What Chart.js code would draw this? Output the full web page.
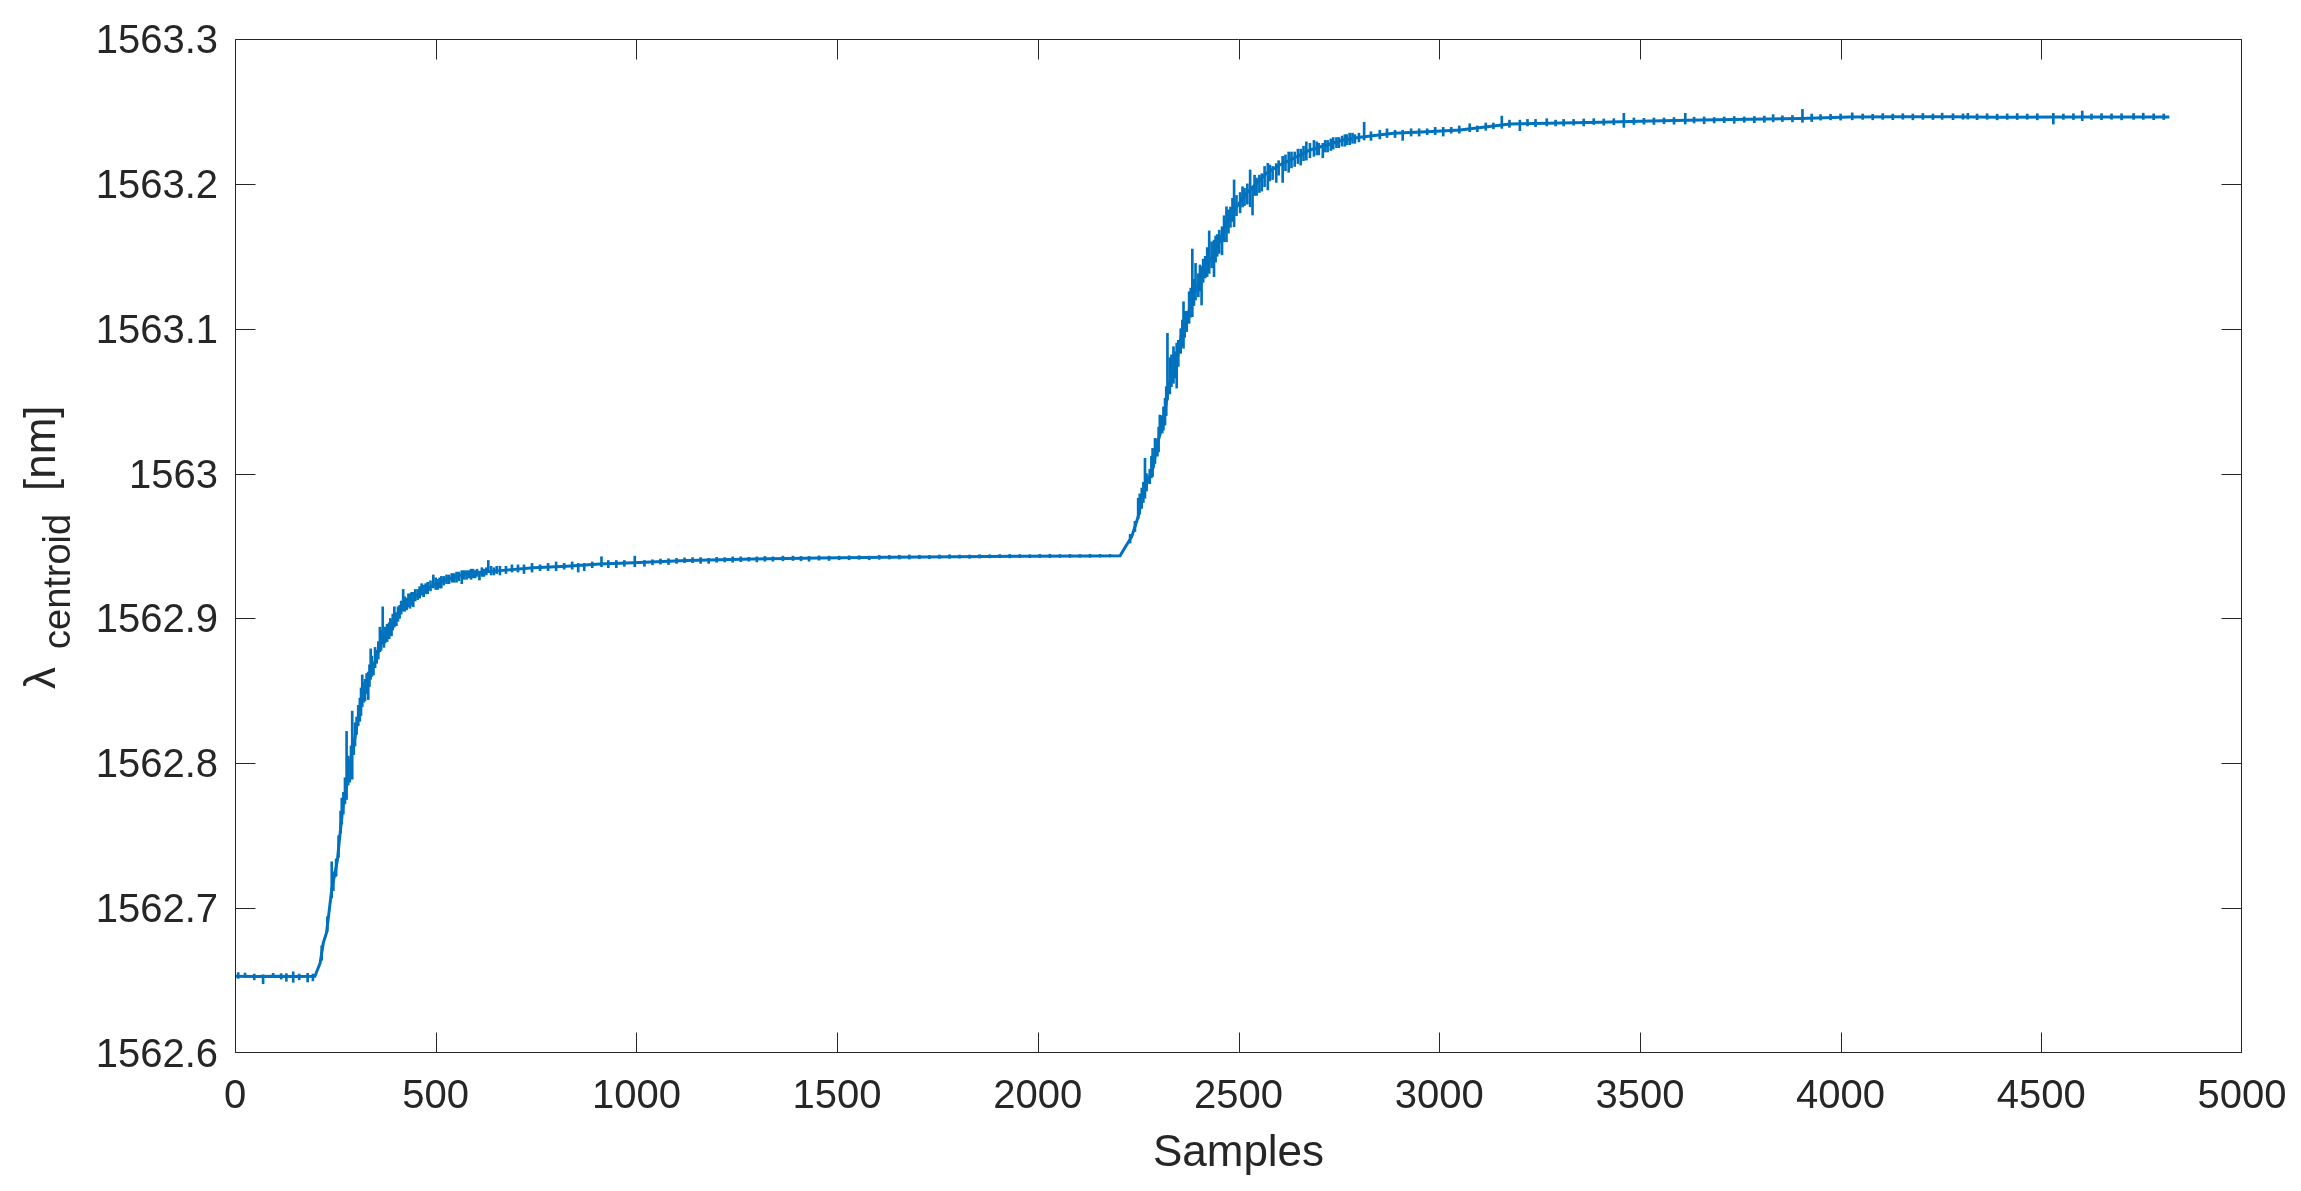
<!DOCTYPE html>
<html>
<head>
<meta charset="utf-8">
<script src="https://cdn.jsdelivr.net/npm/chart.js@4.4.1/dist/chart.umd.min.js"></script>
<style>
  html, body { margin: 0; padding: 0; background: #ffffff; }
  #wrap { width: 2301px; height: 1191px; position: relative; }
</style>
</head>
<body>
<div id="wrap"><canvas id="c" width="2301" height="1191"></canvas></div>
<script>
// ---- data ----
const xTickValues = [0, 500, 1000, 1500, 2000, 2500, 3000, 3500, 4000, 4500, 5000];
const yTickValues = [1562.6, 1562.7, 1562.8, 1562.9, 1563.0, 1563.1, 1563.2, 1563.3];
const xAxisTitle = 'Samples';
const yTitleMain = '\u03BB';
const yTitleSub = 'centroid';
const yTitleUnit = '[nm]';

// trend of the measured centroid (sample index, nm)
const sampleIdx = [0, 50, 100, 150, 199, 212, 220, 228, 235, 241, 249, 255, 262, 270, 278, 282, 295, 303, 311, 324,
  336, 353, 365, 378, 390, 403, 419, 436, 453, 477, 494, 519, 552, 577, 619, 660, 743, 826, 909, 992,
  1125, 1291, 1457, 1624, 1790, 1956, 2122, 2205, 2221, 2234, 2242, 2250, 2263, 2275, 2288, 2296, 2309, 2317, 2325, 2338,
  2350, 2358, 2371, 2383, 2396, 2408, 2421, 2437, 2454, 2471, 2495, 2520, 2545, 2570, 2603, 2637, 2678, 2720, 2761, 2803,
  2886, 2969, 3052, 3135, 3176, 3301, 3401, 3525, 3650, 3774, 3899, 4023, 4148, 4273, 4397, 4550, 4700, 4819];
const centroidNm = [1562.6530, 1562.6528, 1562.6530, 1562.6528, 1562.6530, 1562.662, 1562.676, 1562.683, 1562.699, 1562.713,
  1562.724, 1562.733, 1562.752, 1562.773, 1562.784, 1562.795, 1562.811, 1562.825, 1562.837, 1562.851,
  1562.862, 1562.873, 1562.885, 1562.890, 1562.895, 1562.902, 1562.908, 1562.913, 1562.916, 1562.920,
  1562.923, 1562.926, 1562.929, 1562.931, 1562.932, 1562.933, 1562.935, 1562.936, 1562.9375, 1562.9385,
  1562.9400, 1562.9410, 1562.9417, 1562.9422, 1562.9426, 1562.9429, 1562.9431, 1562.9432, 1562.9507, 1562.9564,
  1562.9633, 1562.9702, 1562.9864, 1562.9956, 1563.0047, 1563.0185, 1563.032, 1563.043, 1563.058, 1563.074,
  1563.083, 1563.096, 1563.105, 1563.120, 1563.128, 1563.136, 1563.145, 1563.150, 1563.161, 1563.174,
  1563.184, 1563.1935, 1563.2004, 1563.2073, 1563.213, 1563.2176, 1563.2234, 1563.2268, 1563.2303, 1563.2321,
  1563.2349, 1563.236, 1563.2372, 1563.2399, 1563.2413, 1563.2420, 1563.2425, 1563.2434, 1563.2441, 1563.2446,
  1563.2452, 1563.2462, 1563.2463, 1563.2463, 1563.2460, 1563.2462, 1563.2462, 1563.2462];

// noise excursions (sample index, lowest and highest value of the spike)
const spikeSample = [8, 25, 48, 70, 95, 115, 128, 145, 160, 181, 194,
  216, 230, 241, 252, 263, 270, 278, 286, 292, 296, 303, 311, 317, 324, 332, 338, 345, 353, 361, 368, 374, 384, 390, 397,
  402, 410, 419, 428, 436, 444, 455, 465, 480, 494, 505, 514, 527, 540, 552, 565, 577, 588, 598, 609, 620, 631, 645, 660,
  675, 690, 705, 720, 740, 760, 780, 800, 820, 840, 855, 870, 890, 913, 930, 950, 970, 996, 1020, 1040,
  1060, 1080, 1100, 1120, 1140, 1160, 1180, 1200, 1220, 1240, 1260, 1280, 1300, 1320, 1340, 1365, 1390, 1410, 1430, 1455,
  1480, 1505, 1530, 1555, 1580, 1605, 1630, 1655, 1680, 1705, 1730, 1755, 1780, 1805, 1830, 1855, 1880, 1905, 1930, 1955,
  1980, 2005, 2030, 2055, 2080, 2105, 2130, 2155, 2180,
  2230, 2242, 2250, 2259, 2267, 2271, 2279, 2286, 2292, 2298, 2304, 2310, 2317, 2323, 2329, 2338, 2346, 2356, 2363, 2371,
  2377, 2385, 2393, 2400, 2408, 2417, 2427, 2439, 2447, 2459, 2470, 2480, 2489, 2504, 2515, 2529, 2535, 2545, 2558, 2573,
  2585, 2594, 2610, 2625, 2640, 2655, 2669, 2688, 2700, 2710, 2722, 2736, 2750, 2765, 2777, 2790, 2813, 2830, 2852, 2870,
  2890, 2909, 2930, 2950, 2970, 2990, 3010, 3030, 3050, 3076, 3095, 3116, 3135, 3156, 3175, 3201, 3220, 3240, 3268, 3290,
  3310, 3335, 3360, 3385, 3410, 3435, 3460, 3485, 3510, 3535, 3560, 3585, 3613, 3635, 3660, 3685, 3710, 3735, 3760, 3785,
  3810, 3832, 3855, 3880, 3905, 3928, 3950, 3975, 4000, 4029, 4055, 4080, 4105, 4130, 4155, 4180, 4205, 4230, 4253, 4280,
  4305, 4317, 4340, 4365, 4390, 4415, 4440, 4465, 4490, 4530, 4555, 4580, 4602, 4625, 4650, 4675, 4700, 4730, 4754, 4780, 4805];
const spikeLow = [1562.6515, 1562.6520, 1562.6505, 1562.6478, 1562.6520, 1562.6510, 1562.6495, 1562.6488, 1562.6505, 1562.6490, 1562.6498,
  1562.664, 1562.684, 1562.707, 1562.722, 1562.752, 1562.765, 1562.775, 1562.787, 1562.789, 1562.806, 1562.820, 1562.829, 1562.839, 1562.843, 1562.844, 1562.858, 1562.861, 1562.869, 1562.877, 1562.882, 1562.883, 1562.886, 1562.888, 1562.894,
  1562.895, 1562.900, 1562.905, 1562.906, 1562.907, 1562.908, 1562.913, 1562.916, 1562.917, 1562.921, 1562.920, 1562.921, 1562.924, 1562.925, 1562.925, 1562.924, 1562.927, 1562.927, 1562.928, 1562.9265, 1562.929, 1562.932, 1562.930, 1562.930,
  1562.931, 1562.932, 1562.932, 1562.931, 1562.932, 1562.933, 1562.933, 1562.933, 1562.934, 1562.934, 1562.932, 1562.933, 1562.935, 1562.9357, 1562.935, 1562.935, 1562.936, 1562.9357, 1562.936, 1562.937,
  1562.9375, 1562.9372, 1562.9380, 1562.9385, 1562.9385, 1562.9380, 1562.9380, 1562.9388, 1562.9390, 1562.9388, 1562.9392, 1562.9395, 1562.9390, 1562.9395, 1562.9395, 1562.9398, 1562.9400, 1562.9398, 1562.9395, 1562.9402,
  1562.9400, 1562.9405, 1562.9405, 1562.9408, 1562.9405, 1562.9408, 1562.9410, 1562.9410, 1562.9410, 1562.9412, 1562.9412, 1562.9414, 1562.9415, 1562.9416, 1562.9415, 1562.9417, 1562.9418, 1562.9419, 1562.9418, 1562.9420,
  1562.9420, 1562.9421, 1562.9420, 1562.9422, 1562.9422, 1562.9423, 1562.9422, 1562.9424, 1562.9425,
  1562.952, 1562.960, 1562.969, 1562.976, 1562.983, 1562.988, 1562.993, 1562.998, 1563.007, 1563.012, 1563.0266, 1563.028, 1563.0335, 1563.0508, 1563.055, 1563.0623, 1563.059, 1563.083, 1563.0865, 1563.098,
  1563.1037, 1563.1083, 1563.1198, 1563.122, 1563.1164, 1563.135, 1563.1382, 1563.1359, 1563.150, 1563.151, 1563.160, 1563.170, 1563.1704, 1563.180, 1563.185, 1563.1842, 1563.1785, 1563.192, 1563.195, 1563.1958,
  1563.203, 1563.201, 1563.201, 1563.208, 1563.212, 1563.213, 1563.2164, 1563.219, 1563.220, 1563.218, 1563.222, 1563.224, 1563.225, 1563.226, 1563.227, 1563.228, 1563.2303, 1563.230, 1563.231, 1563.232,
  1563.232, 1563.230, 1563.233, 1563.233, 1563.234, 1563.234, 1563.233, 1563.235, 1563.235, 1563.236, 1563.236, 1563.237, 1563.238, 1563.2383, 1563.239, 1563.2367, 1563.2400, 1563.2395, 1563.2400, 1563.2400,
  1563.2400, 1563.2405, 1563.2400, 1563.2410, 1563.2405, 1563.2408, 1563.2390, 1563.2410, 1563.2412, 1563.2410, 1563.2415, 1563.2412, 1563.2413, 1563.2420, 1563.2415, 1563.2420, 1563.2422, 1563.2418, 1563.2425, 1563.2422,
  1563.2425, 1563.2428, 1563.2430, 1563.2428, 1563.2425, 1563.2430, 1563.2440, 1563.2442, 1563.2440, 1563.2442, 1563.2445, 1563.2442, 1563.2445, 1563.2443, 1563.2446, 1563.2442, 1563.2445, 1563.2444, 1563.2445, 1563.2443,
  1563.2446, 1563.2447, 1563.2443, 1563.2446, 1563.2442, 1563.2445, 1563.2444, 1563.2446, 1563.2442, 1563.2413, 1563.2445, 1563.2444, 1563.2436, 1563.2445, 1563.2443, 1563.2446, 1563.2442, 1563.2445, 1563.2445, 1563.2443, 1563.2444];
const spikeHigh = [1562.6555, 1562.6552, 1562.6545, 1562.6540, 1562.6550, 1562.6548, 1562.6548, 1562.6560, 1562.6545, 1562.6550, 1562.6545,
  1562.674, 1562.694, 1562.732, 1562.734, 1562.767, 1562.780, 1562.822, 1562.800, 1562.836, 1562.817, 1562.832, 1562.845, 1562.861, 1562.858, 1562.863, 1562.879, 1562.869, 1562.878, 1562.894, 1562.908, 1562.894, 1562.897, 1562.899, 1562.908,
  1562.904, 1562.909, 1562.920, 1562.914, 1562.917, 1562.918, 1562.920, 1562.924, 1562.925, 1562.930, 1562.927, 1562.929, 1562.930, 1562.931, 1562.932, 1562.933, 1562.933, 1562.934, 1562.933, 1562.932, 1562.934, 1562.940, 1562.935, 1562.936,
  1562.936, 1562.937, 1562.937, 1562.937, 1562.938, 1562.937, 1562.938, 1562.939, 1562.938, 1562.939, 1562.938, 1562.938, 1562.939, 1562.9426, 1562.940, 1562.940, 1562.940, 1562.943, 1562.940, 1562.9405,
  1562.9410, 1562.9412, 1562.9415, 1562.9418, 1562.9420, 1562.9420, 1562.9415, 1562.9422, 1562.9420, 1562.9425, 1562.9425, 1562.9422, 1562.9425, 1562.9428, 1562.9425, 1562.9430, 1562.9430, 1562.9428, 1562.9428, 1562.9432,
  1562.9430, 1562.9430, 1562.9432, 1562.9433, 1562.9430, 1562.9435, 1562.9435, 1562.9436, 1562.9438, 1562.9436, 1562.9435, 1562.9438, 1562.9440, 1562.9438, 1562.9438, 1562.9440, 1562.9440, 1562.9441, 1562.9442, 1562.9441,
  1562.9440, 1562.9442, 1562.9443, 1562.9441, 1562.9442, 1562.9441, 1562.9443, 1562.9442, 1562.9442,
  1562.958, 1562.967, 1562.983, 1562.990, 1563.0105, 1563.000, 1563.003, 1563.0174, 1563.0243, 1563.024, 1563.0404, 1563.040, 1563.052, 1563.0968, 1563.080, 1563.0876, 1563.090, 1563.100, 1563.1186, 1563.112,
  1563.1255, 1563.155, 1563.1451, 1563.138, 1563.1428, 1563.150, 1563.1675, 1563.1612, 1563.165, 1563.1704, 1563.1842, 1563.184, 1563.2027, 1563.194, 1563.197, 1563.2096, 1563.198, 1563.204, 1563.207, 1563.2142,
  1563.212, 1563.214, 1563.219, 1563.222, 1563.222, 1563.224, 1563.229, 1563.230, 1563.228, 1563.228, 1563.230, 1563.232, 1563.232, 1563.234, 1563.235, 1563.234, 1563.2425, 1563.236, 1563.237, 1563.238,
  1563.237, 1563.237, 1563.238, 1563.238, 1563.238, 1563.239, 1563.239, 1563.239, 1563.240, 1563.2415, 1563.240, 1563.242, 1563.242, 1563.2468, 1563.244, 1563.244, 1563.2445, 1563.2445, 1563.2450, 1563.2440,
  1563.2445, 1563.2445, 1563.2448, 1563.2450, 1563.2448, 1563.2450, 1563.2487, 1563.2455, 1563.2452, 1563.2455, 1563.2455, 1563.2458, 1563.2487, 1563.2460, 1563.2462, 1563.2458, 1563.2462, 1563.2465, 1563.2462, 1563.2465,
  1563.2468, 1563.2478, 1563.2470, 1563.2472, 1563.2514, 1563.2482, 1563.2478, 1563.2480, 1563.2482, 1563.2490, 1563.2482, 1563.2480, 1563.2485, 1563.2482, 1563.2484, 1563.2482, 1563.2486, 1563.2482, 1563.2488, 1563.2484,
  1563.2483, 1563.2487, 1563.2482, 1563.2484, 1563.2481, 1563.2483, 1563.2485, 1563.2482, 1563.2484, 1563.2487, 1563.2482, 1563.2484, 1563.2503, 1563.2482, 1563.2485, 1563.2483, 1563.2484, 1563.2486, 1563.2488, 1563.2483, 1563.2482];

// extra band of the noise in the two transitions (sample index, low, high)
const bandSample = [245, 258, 266, 274, 282, 289, 299, 307, 314, 320, 328, 335, 341, 349, 357, 364, 371, 379, 387, 393,
  406, 414, 423, 432, 440, 449, 460, 470, 475, 487, 500, 510, 520, 533, 546, 558, 571, 583, 593, 603, 615, 626, 638, 652,
  2254, 2263, 2283, 2301, 2313, 2320, 2333, 2342, 2350, 2360, 2366, 2381, 2389, 2404, 2412, 2422, 2433, 2443, 2452, 2464,
  2475, 2485, 2495, 2510, 2522, 2540, 2552, 2565, 2578, 2600, 2617, 2632, 2648, 2662, 2678, 2695, 2716, 2730, 2744, 2758, 2770, 2784, 2800];
const bandLow = [1562.712, 1562.735, 1562.758, 1562.772, 1562.785, 1562.795, 1562.812, 1562.826, 1562.833, 1562.842, 1562.848, 1562.853, 1562.860, 1562.866, 1562.872, 1562.878, 1562.880, 1562.884, 1562.888, 1562.892,
  1562.898, 1562.903, 1562.905, 1562.908, 1562.909, 1562.912, 1562.914, 1562.915, 1562.917, 1562.919, 1562.920, 1562.921, 1562.923, 1562.924, 1562.925, 1562.926, 1562.927, 1562.928, 1562.928, 1562.929, 1562.929, 1562.930, 1562.930, 1562.931,
  1562.972, 1562.980, 1562.997, 1563.015, 1563.030, 1563.040, 1563.060, 1563.066, 1563.074, 1563.088, 1563.094, 1563.108, 1563.116, 1563.126, 1563.132, 1563.136, 1563.142, 1563.146, 1563.152, 1563.160,
  1563.166, 1563.174, 1563.178, 1563.184, 1563.186, 1563.192, 1563.194, 1563.198, 1563.202, 1563.206, 1563.209, 1563.211, 1563.214, 1563.216, 1563.218, 1563.220, 1563.222, 1563.223, 1563.225, 1563.226, 1563.227, 1563.228, 1563.229];
const bandHigh = [1562.725, 1562.750, 1562.776, 1562.790, 1562.805, 1562.812, 1562.828, 1562.840, 1562.852, 1562.856, 1562.862, 1562.868, 1562.874, 1562.880, 1562.884, 1562.892, 1562.892, 1562.896, 1562.900, 1562.903,
  1562.908, 1562.912, 1562.915, 1562.917, 1562.918, 1562.920, 1562.922, 1562.923, 1562.924, 1562.926, 1562.928, 1562.928, 1562.929, 1562.930, 1562.931, 1562.932, 1562.933, 1562.933, 1562.934, 1562.934, 1562.935, 1562.935, 1562.936, 1562.936,
  1562.986, 1562.994, 1563.012, 1563.032, 1563.046, 1563.060, 1563.082, 1563.084, 1563.092, 1563.106, 1563.112, 1563.128, 1563.134, 1563.144, 1563.148, 1563.156, 1563.160, 1563.164, 1563.168, 1563.178,
  1563.182, 1563.190, 1563.192, 1563.198, 1563.200, 1563.206, 1563.206, 1563.212, 1563.213, 1563.216, 1563.220, 1563.222, 1563.224, 1563.226, 1563.228, 1563.229, 1563.230, 1563.231, 1563.232, 1563.233, 1563.234, 1563.235, 1563.235];

// ---- styling ----
const LINE_COLOR = '#0072BD';
const AXIS_COLOR = '#262626';
const FONT = "'Liberation Sans', Arial, Helvetica, sans-serif";

const traceData = sampleIdx.map((s, i) => ({ x: s, y: centroidNm[i] }));
const spikeData = spikeSample.map((s, i) => ({ x: s, y: [spikeLow[i], spikeHigh[i]] }))
  .concat(bandSample.map((s, i) => ({ x: s, y: [bandLow[i], bandHigh[i]] })));

function fmtY(v) { return String(Math.round(v * 10) / 10); }

const framePlugin = {
  id: 'matlabFrame',
  afterDatasetsDraw(chart) {
    const { ctx, chartArea: a, scales } = chart;
    const xs = scales.x, ys = scales.y;
    const L = Math.round(a.left) + 0.5, R = Math.round(a.right) - 0.5;
    const T = Math.round(a.top) + 0.5, B = Math.round(a.bottom) - 0.5;
    const tick = 20;
    ctx.save();
    ctx.strokeStyle = AXIS_COLOR;
    ctx.lineWidth = 1;
    ctx.beginPath();
    ctx.rect(L, T, R - L, B - T);
    xTickValues.forEach(v => {
      const px = Math.min(R, Math.max(L, Math.round(xs.getPixelForValue(v)) + 0.5));
      ctx.moveTo(px, B); ctx.lineTo(px, B - tick);
      ctx.moveTo(px, T); ctx.lineTo(px, T + tick);
    });
    yTickValues.forEach(v => {
      const py = Math.min(B, Math.max(T, Math.round(ys.getPixelForValue(v)) + 0.5));
      ctx.moveTo(L, py); ctx.lineTo(L + tick, py);
      ctx.moveTo(R, py); ctx.lineTo(R - tick, py);
    });
    ctx.stroke();
    ctx.restore();
  },
  afterDraw(chart) {
    const { ctx, chartArea: a } = chart;
    const cy = (a.top + a.bottom) / 2;
    ctx.save();
    ctx.fillStyle = AXIS_COLOR;
    ctx.textAlign = 'left';
    ctx.textBaseline = 'alphabetic';
    const pieces = [
      { t: yTitleMain, size: 44, bx: 55, by: cy + 143 },
      { t: yTitleSub, size: 38, bx: 70, by: cy + 103 },
      { t: yTitleUnit, size: 44, bx: 55, by: cy - 55 }
    ];
    pieces.forEach(p => {
      ctx.save();
      ctx.translate(p.bx, p.by);
      ctx.rotate(-Math.PI / 2);
      ctx.font = p.size + 'px ' + FONT;
      ctx.fillText(p.t, 0, 0);
      ctx.restore();
    });
    ctx.restore();
  }
};

new Chart(document.getElementById('c'), {
  type: 'bar',
  data: {
    datasets: [
      {
        type: 'bar',
        label: 'noise',
        data: spikeData,
        backgroundColor: LINE_COLOR,
        borderWidth: 0,
        barThickness: 2,
        grouped: false,
        order: 2
      },
      {
        type: 'line',
        label: 'centroid',
        data: traceData,
        borderColor: LINE_COLOR,
        backgroundColor: LINE_COLOR,
        borderWidth: 3,
        pointRadius: 0,
        tension: 0,
        fill: false,
        order: 1
      }
    ]
  },
  options: {
    responsive: false,
    animation: false,
    devicePixelRatio: 1,
    layout: { padding: { top: 39, right: 59, left: 0, bottom: 0 } },
    plugins: { legend: { display: false }, tooltip: { enabled: false }, title: { display: false } },
    scales: {
      x: {
        type: 'linear',
        min: 0, max: 5000,
        offset: false,
        grid: { display: false, drawTicks: false },
        border: { display: false },
        afterBuildTicks(scale) { scale.ticks = xTickValues.map(v => ({ value: v })); },
        afterFit(scale) { scale.height = 138; scale.paddingLeft = 0; scale.paddingRight = 0; },
        ticks: {
          autoSkip: false, maxRotation: 0, minRotation: 0, padding: 20,
          color: AXIS_COLOR,
          font: { family: FONT, size: 40 },
          callback: v => String(v)
        },
        title: {
          display: true, text: xAxisTitle, color: AXIS_COLOR,
          font: { family: FONT, size: 44 },
          padding: { top: 0, bottom: 11 }
        }
      },
      y: {
        type: 'linear',
        min: 1562.6, max: 1563.3,
        grid: { display: false, drawTicks: false },
        border: { display: false },
        afterBuildTicks(scale) { scale.ticks = yTickValues.map(v => ({ value: v })); },
        afterFit(scale) { scale.width = 235; scale.paddingTop = 0; scale.paddingBottom = 0; },
        ticks: {
          autoSkip: false, padding: 17, labelOffset: 3,
          color: AXIS_COLOR,
          font: { family: FONT, size: 40 },
          callback: v => fmtY(v)
        },
        title: { display: false }
      }
    }
  },
  plugins: [framePlugin]
});
</script>
</body>
</html>
